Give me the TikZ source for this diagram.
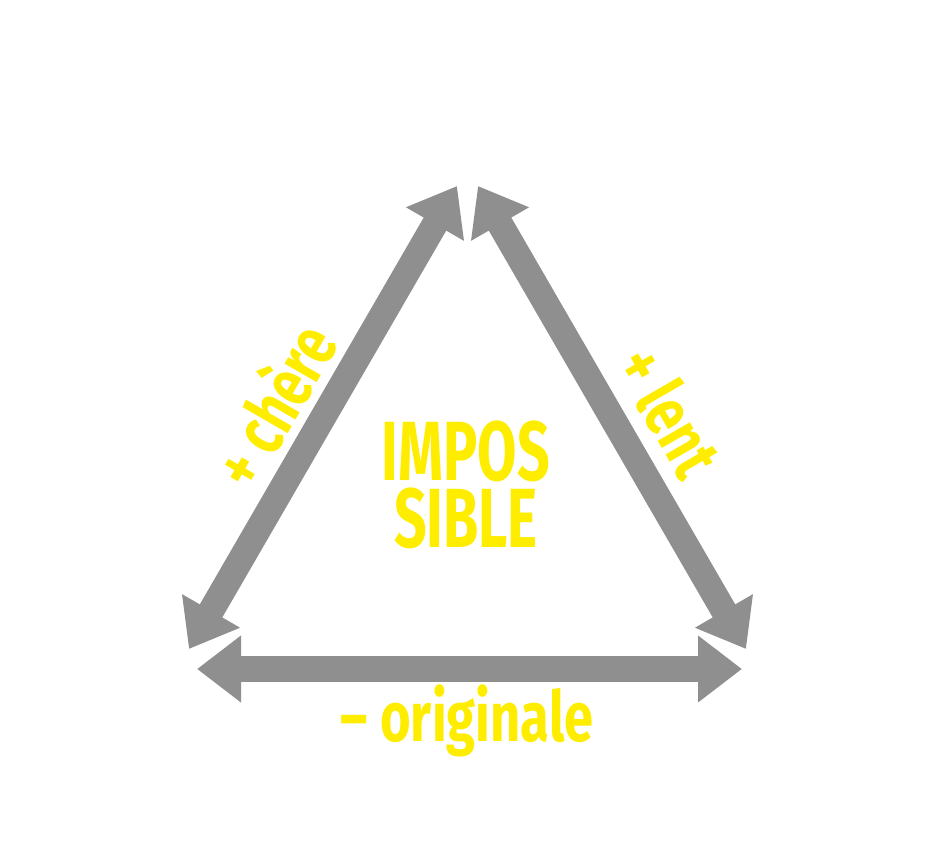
\documentclass[tikz,border=0pt]{standalone}
\usepackage{fontspec}
\usepackage{graphicx}
\setmainfont{Fira Sans}
\usetikzlibrary{arrows.meta}
\definecolor{arrowgray}{HTML}{8F8F8F}
\definecolor{txtyellow}{HTML}{FFED00}
\newcommand{\narrowtxt}[2]{\scalebox{#1}[1]{#2}}
\tikzset{
  dblarrow/.style={draw=arrowgray, line width=26pt,
    {Triangle[length=44pt,width=64pt]}-{Triangle[length=44pt,width=64pt]}},
  label/.style={text=txtyellow, font=\bfseries\fontsize{70}{72}\selectfont, inner sep=0pt},
  bigtext/.style={text=txtyellow, inner sep=0pt, font=\bfseries\fontsize{84}{67}\selectfont, anchor=base},
}
\begin{document}
\begin{tikzpicture}[x=1pt,y=-1pt]
\useasboundingbox[fill=white] (0,0) rectangle (930,859);
\coordinate (LT) at (457,186);
\coordinate (LB) at (189,649);
\coordinate (RT) at (478,186);
\coordinate (RB) at (746,649);
\coordinate (BL) at (197,669);
\coordinate (BR) at (742,669);
\draw[dblarrow] (LT) -- (LB);
\draw[dblarrow] (RT) -- (RB);
\draw[dblarrow] (BL) -- (BR);
\node[label, rotate=60] (chere) at (272,404) {\narrowtxt{0.75}{+ chère}};
\node[label, rotate=-60] (lent) at (670,411) {\narrowtxt{0.75}{+ lent}};
\node[label, anchor=base] (orig) at (467,741) {\narrowtxt{0.75}{– originale}};
\node[bigtext] (imp) at (466,480) {\narrowtxt{0.68}{IMPOS}};
\node[bigtext] (sib) at (466,547) {\narrowtxt{0.68}{SIBLE}};
\end{tikzpicture}
\end{document}
